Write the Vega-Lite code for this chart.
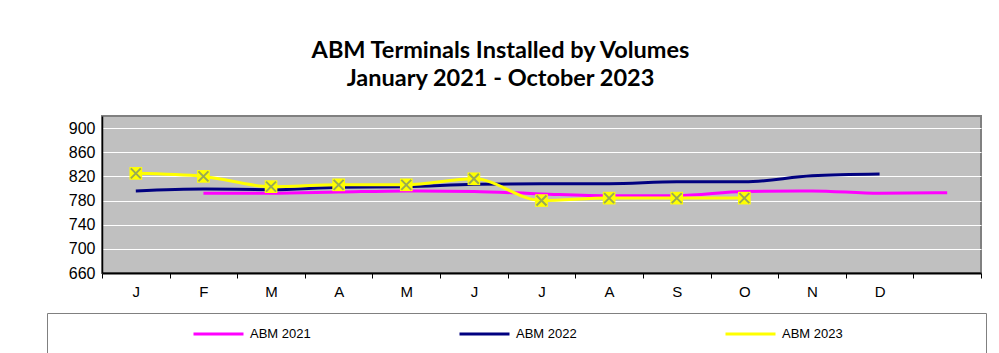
{
  "$schema": "https://vega.github.io/schema/vega-lite/v6.json",
  "width": 879,
  "height": 157,
  "autosize": "none",
  "padding": {"left": 102, "top": 116, "right": 18, "bottom": 80},
  "background": "white",
  "title": {
    "text": ["ABM Terminals Installed by Volumes", "January 2021 - October 2023"],
    "font": "Lato",
    "fontSize": 23.5,
    "fontWeight": "bold",
    "color": "black",
    "anchor": "middle",
    "dx": -41,
    "offset": 26,
    "lineHeight": 28
  },
  "config": {
    "view": {"fill": "#C0C0C0", "stroke": "#808080", "strokeWidth": 2}
  },
  "data": {
    "values": [
      {"m": 2, "series": "ABM 2021", "value": 792},
      {"m": 3, "series": "ABM 2021", "value": 792},
      {"m": 4, "series": "ABM 2021", "value": 794},
      {"m": 5, "series": "ABM 2021", "value": 796},
      {"m": 6, "series": "ABM 2021", "value": 795},
      {"m": 7, "series": "ABM 2021", "value": 791},
      {"m": 8, "series": "ABM 2021", "value": 788},
      {"m": 9, "series": "ABM 2021", "value": 788},
      {"m": 10, "series": "ABM 2021", "value": 795},
      {"m": 11, "series": "ABM 2021", "value": 796},
      {"m": 12, "series": "ABM 2021", "value": 792},
      {"m": 13, "series": "ABM 2021", "value": 793},
      {"m": 1, "series": "ABM 2022", "value": 796},
      {"m": 2, "series": "ABM 2022", "value": 799},
      {"m": 3, "series": "ABM 2022", "value": 798},
      {"m": 4, "series": "ABM 2022", "value": 802},
      {"m": 5, "series": "ABM 2022", "value": 803},
      {"m": 6, "series": "ABM 2022", "value": 807},
      {"m": 7, "series": "ABM 2022", "value": 808},
      {"m": 8, "series": "ABM 2022", "value": 808},
      {"m": 9, "series": "ABM 2022", "value": 811},
      {"m": 10, "series": "ABM 2022", "value": 811},
      {"m": 11, "series": "ABM 2022", "value": 821},
      {"m": 12, "series": "ABM 2022", "value": 824},
      {"m": 1, "series": "ABM 2023", "value": 825},
      {"m": 2, "series": "ABM 2023", "value": 820},
      {"m": 3, "series": "ABM 2023", "value": 803},
      {"m": 4, "series": "ABM 2023", "value": 806},
      {"m": 5, "series": "ABM 2023", "value": 806},
      {"m": 6, "series": "ABM 2023", "value": 816},
      {"m": 7, "series": "ABM 2023", "value": 780},
      {"m": 8, "series": "ABM 2023", "value": 784},
      {"m": 9, "series": "ABM 2023", "value": 784},
      {"m": 10, "series": "ABM 2023", "value": 784}
    ]
  },
  "encoding": {
    "x": {
      "field": "m",
      "type": "quantitative",
      "scale": {"domain": [0.5, 13.5], "nice": false, "zero": false},
      "axis": {
        "title": null,
        "grid": false,
        "values": [0.5, 1, 1.5, 2, 2.5, 3, 3.5, 4, 4.5, 5, 5.5, 6, 6.5, 7, 7.5, 8, 8.5, 9, 9.5, 10, 10.5, 11, 11.5, 12, 12.5, 13, 13.5],
        "labelExpr": "datum.value % 1 == 0 && datum.value <= 12 ? ['J','F','M','A','M','J','J','A','S','O','N','D'][datum.value - 1] : ''",
        "labelOverlap": false,
        "labelFlush": false,
        "labelFont": "Liberation Sans",
        "labelFontSize": 15,
        "labelColor": "black",
        "labelPadding": 6,
        "tickSize": 5,
        "tickColor": "black",
        "tickOpacity": {"condition": {"test": "datum.value % 1 == 0", "value": 0}, "value": 1},
        "domainColor": "black",
        "domainWidth": 2
      }
    },
    "y": {
      "field": "value",
      "type": "quantitative",
      "scale": {"domain": [660, 920], "nice": false, "zero": false},
      "axis": {
        "title": null,
        "values": [660, 700, 740, 780, 820, 860, 900],
        "grid": true,
        "gridColor": "white",
        "gridWidth": 1,
        "ticks": false,
        "labelFont": "Liberation Sans",
        "labelFontSize": 16,
        "labelColor": "black",
        "labelPadding": 7,
        "domainColor": "black",
        "domainWidth": 1.5
      }
    }
  },
  "layer": [
    {
      "mark": {"type": "line", "interpolate": "monotone", "strokeWidth": 3},
      "encoding": {
        "color": {
          "field": "series",
          "type": "nominal",
          "scale": {"domain": ["ABM 2021", "ABM 2022", "ABM 2023"], "range": ["#FF00FF", "#000080", "#FFFF00"]},
          "legend": {
            "orient": "none",
            "legendX": -55,
            "legendY": 197,
            "direction": "horizontal",
            "title": "\u2800\u2800\u2800\u2800\u2800\u2800\u2800\u2800\u2800\u2800\u2800\u2800\u2800",
            "titleOrient": "left",
            "titleFont": "Liberation Sans",
            "titleFontSize": 13,
            "titlePadding": 2,
            "strokeColor": "#808080",
            "padding": 13,
            "clipHeight": 16,
            "symbolType": "stroke",
            "symbolSize": 2500,
            "symbolStrokeWidth": 3,
            "labelFont": "Liberation Sans",
            "labelFontSize": 13,
            "labelColor": "black",
            "labelOffset": 5,
            "columnPadding": 147,
            "labelLimit": 500,
            "labelExpr": "datum.label == 'ABM 2023' ? datum.label + '\u2800\u2800\u2800\u2800\u2800\u2800\u2800\u2800\u2800\u2800\u2800\u2800\u2800' : datum.label"
          }
        }
      }
    },
    {
      "transform": [{"filter": "datum.series == 'ABM 2023'"}],
      "mark": {"type": "point", "shape": "square", "filled": true, "size": 160, "color": "#FFFF00", "opacity": 1}
    },
    {
      "transform": [{"filter": "datum.series == 'ABM 2023'"}],
      "mark": {"type": "point", "shape": "M-1,-1L1,1M-1,1L1,-1", "filled": false, "size": 100, "stroke": "#98AA55", "strokeWidth": 2, "opacity": 1}
    }
  ]
}
